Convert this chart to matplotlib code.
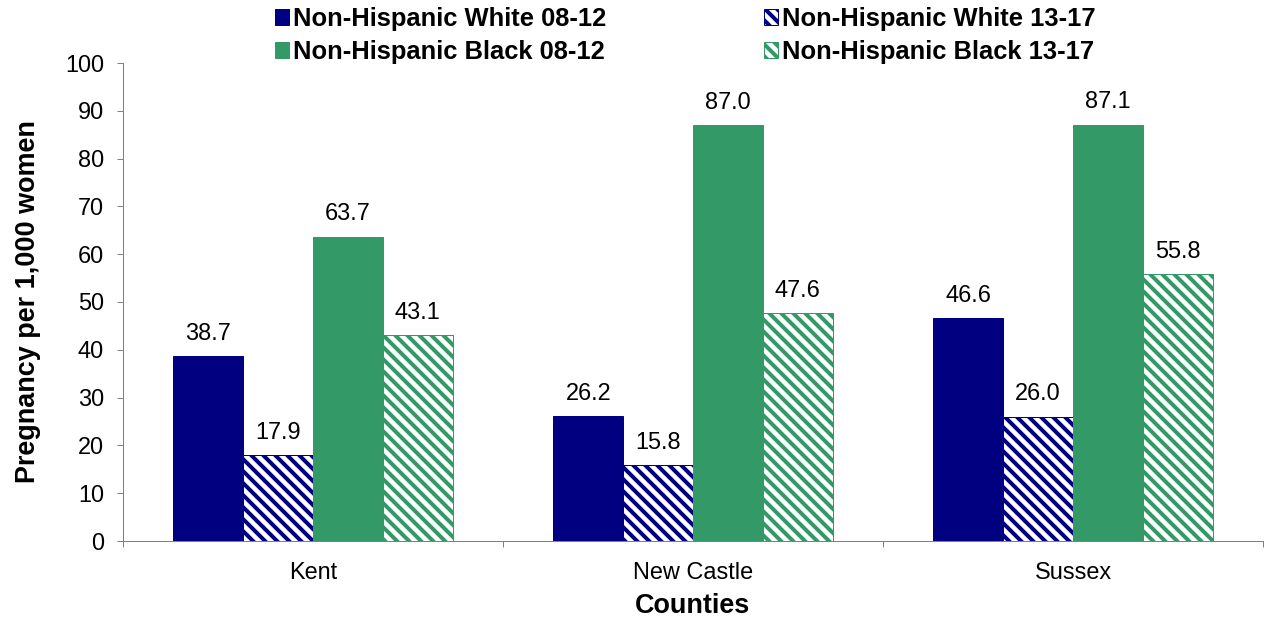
import matplotlib
matplotlib.use("Agg")
import matplotlib.pyplot as plt
import numpy as np

counties = ["Kent", "New Castle", "Sussex"]
white_08_12 = [38.7, 26.2, 46.6]
white_13_17 = [17.9, 15.8, 26.0]
black_08_12 = [63.7, 87.0, 87.1]
black_13_17 = [43.1, 47.6, 55.8]
series_names = ["Non-Hispanic White 08-12", "Non-Hispanic White 13-17",
                "Non-Hispanic Black 08-12", "Non-Hispanic Black 13-17"]

NAVY = "#000080"
GREEN = "#339966"

plt.rcParams["font.family"] = ["Liberation Sans", "DejaVu Sans"]
plt.rcParams["hatch.linewidth"] = 4.0

DPI = 72
fig = plt.figure(figsize=(1269 / DPI, 617 / DPI), dpi=DPI)
ax = fig.add_axes([123 / 1269, 1 - 541 / 617, (1263 - 123) / 1269, (541 - 63) / 617])

x = np.arange(len(counties))
w = 70 / 381
series = [white_08_12, white_13_17, black_08_12, black_13_17]
styles = [
    dict(color=NAVY, edgecolor=NAVY),
    dict(color="white", edgecolor=NAVY, hatch="\\\\"),
    dict(color=GREEN, edgecolor=GREEN),
    dict(color="white", edgecolor=GREEN, hatch="\\\\"),
]
handles = []
for i, (vals, st) in enumerate(zip(series, styles)):
    b = ax.bar(x + (i - 1.5) * w, vals, w, linewidth=1, label=series_names[i], **st)
    handles.append(b)
    for xi, v in zip(x + (i - 1.5) * w, vals):
        ax.text(xi, v + 3.4, f"{v:.1f}", ha="center", va="baseline", fontsize=23.5, color="black")

ax.set_xlim(-0.5, 2.5)
ax.set_ylim(0, 100)
ax.set_yticks(np.arange(0, 101, 10))
ax.tick_params(axis="y", labelsize=23.5, length=6, width=1, color="#808080", pad=13)
ax.set_xticks(x)
ax.set_xticklabels(counties)
ax.tick_params(axis="x", which="major", length=0, labelsize=23.5, pad=21)
ax.set_xticks([-0.5, 0.5, 1.5, 2.5], minor=True)
ax.tick_params(axis="x", which="minor", length=6, width=1, color="#808080")
for s in ["top", "right"]:
    ax.spines[s].set_visible(False)
for s in ["left", "bottom"]:
    ax.spines[s].set_color("#808080")
    ax.spines[s].set_linewidth(1)

ax.set_xlabel("Counties", fontsize=27, fontweight="bold", labelpad=9)
ax.set_ylabel("Pregnancy per 1,000 women", fontsize=27, fontweight="bold", labelpad=24)

order = [0, 2, 1, 3]
leg = fig.legend([handles[i] for i in order], [series_names[i] for i in order],
                 loc="upper center", bbox_to_anchor=(685 / 1269, 1.005), ncol=2,
                 frameon=False, prop=dict(weight="bold", size=25.5),
                 handlelength=0.55, handleheight=0.6, handletextpad=0.15,
                 columnspacing=6.2, labelspacing=0.36, borderaxespad=0.0)

fig.savefig("out.png", dpi=DPI)
